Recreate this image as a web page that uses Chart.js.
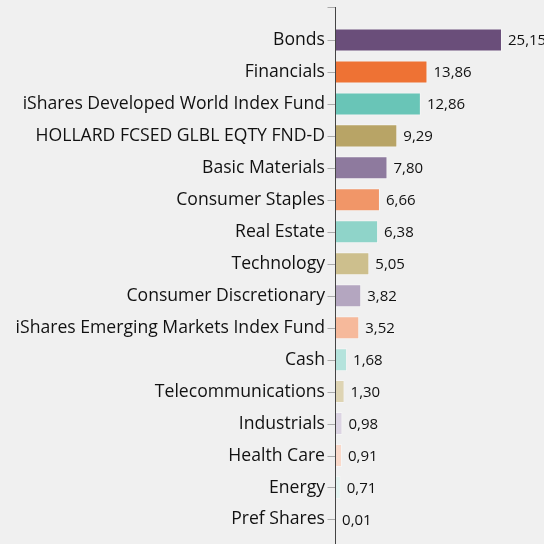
<!DOCTYPE html>
<html>
<head>
<meta charset="utf-8">
<script src="https://cdn.jsdelivr.net/npm/chart.js@4/dist/chart.umd.min.js"></script>
<style>
  html, body { margin: 0; padding: 0; background: #f0f0f0; overflow: hidden; }
  #wrap { width: 544px; height: 557px; position: relative; }
</style>
</head>
<body>
<div id="wrap"><canvas id="c"></canvas></div>
<script>
// Portfolio allocation by sector / holding (%)
const categories = [
  "Bonds", "Financials", "iShares Developed World Index Fund",
  "HOLLARD FCSED GLBL EQTY FND-D", "Basic Materials", "Consumer Staples",
  "Real Estate", "Technology", "Consumer Discretionary",
  "iShares Emerging Markets Index Fund", "Cash", "Telecommunications",
  "Industrials", "Health Care", "Energy", "Pref Shares"
];
const weights = [25.15, 13.86, 12.86, 9.29, 7.80, 6.66, 6.38, 5.05, 3.82, 3.52, 1.68, 1.30, 0.98, 0.91, 0.71, 0.01];
const barColors = [
  "#6a4e7a", "#ee7234", "#69c5b7", "#b8a466", "#8e7a9e", "#f19668",
  "#8fd4c9", "#cdbf8d", "#b4a6c0", "#f6b99b", "#b4e3dc", "#ded4b3",
  "#dcd4e3", "#fad9ca", "#e2f3f0", "#f9ede7"
];

const fmt = v => v.toFixed(2).replace(".", ",");

const valueLabels = {
  id: "valueLabels",
  afterDatasetsDraw(chart) {
    const ctx = chart.ctx;
    const meta = chart.getDatasetMeta(0);
    ctx.save();
    ctx.font = "15px 'Open Sans'";
    ctx.fillStyle = "#111";
    ctx.textBaseline = "middle";
    ctx.textAlign = "left";
    meta.data.forEach((bar, i) => {
      ctx.fillText(fmt(weights[i]), bar.x + 6, bar.y + 1);
    });
    ctx.restore();
  }
};

// vertical axis line with small tick marks next to each category
const axisLine = {
  id: "axisLine",
  afterDraw(chart) {
    const ctx = chart.ctx;
    const x = Math.round(chart.chartArea.left) - 0.5;
    const yScale = chart.scales.y;
    ctx.save();
    ctx.strokeStyle = "#aaa";
    ctx.lineWidth = 1;
    ctx.beginPath();
    ctx.moveTo(x - 8, 7.5);
    ctx.lineTo(x, 7.5);
    categories.forEach((c, i) => {
      const y = Math.round(yScale.getPixelForValue(i)) + 0.5;
      ctx.moveTo(x - 8, y);
      ctx.lineTo(x, y);
    });
    ctx.stroke();
    ctx.strokeStyle = "#444";
    ctx.beginPath();
    ctx.moveTo(x, 7);
    ctx.lineTo(x, chart.height);
    ctx.stroke();
    ctx.restore();
  }
};

new Chart(document.getElementById("c"), {
  type: "bar",
  data: {
    labels: categories,
    datasets: [{
      data: weights,
      backgroundColor: barColors,
      borderColor: "rgba(255,255,255,0.35)",
      borderWidth: 1,
      borderSkipped: "left",
      barPercentage: 0.72,
      categoryPercentage: 1
    }]
  },
  options: {
    indexAxis: "y",
    responsive: true,
    maintainAspectRatio: false,
    animation: false,
    layout: { padding: { top: 24, bottom: 0, left: 0, right: 10 } },
    plugins: { legend: { display: false }, tooltip: { enabled: false } },
    scales: {
      x: {
        display: false,
        min: 0,
        max: 30
      },
      y: {
        afterFit(scale) { scale.width = 336; },
        border: { display: false },
        grid: {
          drawOnChartArea: false,
          drawTicks: false
        },
        ticks: {
          color: "#111",
          font: { family: "'Open Sans'", size: 17.6 },
          padding: 11,
          autoSkip: false
        }
      }
    }
  },
  plugins: [valueLabels, axisLine]
});
</script>
</body>
</html>
